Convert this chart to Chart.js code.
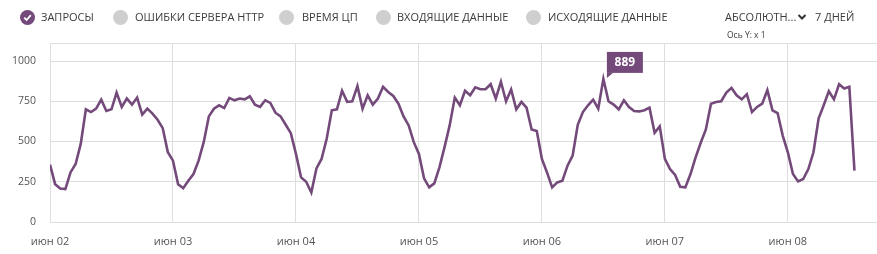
<!DOCTYPE html>
<html lang="ru">
<head>
    <meta charset="UTF-8">
    <title>Запросы</title>
    <script src="https://cdn.jsdelivr.net/npm/chart.js"></script>
    <style>
        body {
            margin: 0;
            width: 877px;
            height: 254px;
            overflow: hidden;
            background: #fff;
            font-family: "Open Sans", "Noto Sans", Arial, sans-serif;
            color: #3b3b3b;
        }
        #wrap {
            position: relative;
            width: 877px;
            height: 254px;
        }
        canvas {
            position: absolute;
            left: 0;
            top: 0;
        }
        .item {
            position: absolute;
            top: 9px;
            font-size: 11px;
            line-height: 16px;
            white-space: nowrap;
        }
        .dot {
            position: absolute;
            top: 10px;
            width: 15px;
            height: 15px;
            border-radius: 50%;
            background: #cfcfcf;
        }
        .dot.on {
            background: #744a7b;
        }
        .dot.on svg {
            position: absolute;
            left: 3px;
            top: 3px;
        }
        .small {
            position: absolute;
            font-size: 8.5px;
            top: 29px;
            left: 727px;
            white-space: nowrap;
        }
    </style>
</head>
<body>
<div id="wrap">
    <canvas id="requestsChart" width="877" height="254"></canvas>

    <div class="dot on" style="left:20px"><svg width="9" height="9" viewBox="0 0 9 9"><path d="M1.2 4.6 L3.6 7 L7.8 2.2" stroke="#fff" stroke-width="1.8" fill="none"/></svg></div>
    <div class="item" style="left:41px">ЗАПРОСЫ</div>
    <div class="dot" style="left:113px"></div>
    <div class="item" style="left:135px">ОШИБКИ СЕРВЕРА HTTP</div>
    <div class="dot" style="left:279px"></div>
    <div class="item" style="left:302px">ВРЕМЯ ЦП</div>
    <div class="dot" style="left:376px"></div>
    <div class="item" style="left:397px">ВХОДЯЩИЕ ДАННЫЕ</div>
    <div class="dot" style="left:526px"></div>
    <div class="item" style="left:548px">ИСХОДЯЩИЕ ДАННЫЕ</div>

    <div class="item" style="left:725px">АБСОЛЮТН...<svg width="10" height="8" viewBox="0 0 10 8" style="margin-left:1px"><path d="M1.5 2 L5 5.5 L8.5 2" stroke="#333" stroke-width="2" fill="none"/></svg></div>
    <div class="item" style="left:815px">7 ДНЕЙ</div>
    <div class="small">Ось Y: x 1</div>
</div>

<script>
    // hourly request counts, one array per day
    const jun02 = [356, 235, 208, 204, 308, 360, 485, 700, 683, 704, 760, 690, 700, 804, 715, 767, 729, 773, 667, 704, 673, 635, 583, 433];
    const jun03 = [381, 235, 210, 256, 298, 381, 496, 656, 704, 725, 708, 771, 756, 767, 762, 781, 729, 715, 756, 740, 679, 656, 604, 552];
    const jun04 = [423, 277, 250, 183, 333, 392, 517, 694, 700, 815, 746, 750, 844, 704, 787, 729, 767, 840, 808, 783, 735, 656, 600, 496];
    const jun05 = [423, 271, 215, 240, 340, 465, 600, 773, 725, 815, 787, 837, 825, 825, 856, 767, 871, 750, 823, 700, 746, 710, 575, 565];
    const jun06 = [392, 308, 215, 246, 256, 350, 412, 604, 683, 725, 760, 704, 889, 750, 729, 700, 756, 714, 689, 687, 694, 710, 554, 594];
    const jun07 = [392, 329, 292, 219, 215, 298, 402, 492, 575, 735, 746, 750, 804, 833, 787, 762, 794, 683, 715, 735, 819, 694, 677, 537];
    const jun08 = [433, 298, 252, 267, 329, 433, 642, 725, 812, 762, 856, 829, 840, 319];

    const dayLabels = ['июн 02', 'июн 03', 'июн 04', 'июн 05', 'июн 06', 'июн 07', 'июн 08'];
    const yTicks = [0, 250, 500, 750, 1000];

    const requests = [].concat(jun02, jun03, jun04, jun05, jun06, jun07, jun08);
    const points = requests.map((v, i) => ({ x: i, y: v }));
    const peakIndex = requests.indexOf(Math.max(...requests));

    const lineColor = '#744a7b';
    const gridColor = '#dedede';

    // callout box over the peak value
    const peakLabel = {
        id: 'peakLabel',
        afterDatasetsDraw(chart) {
            const pt = chart.getDatasetMeta(0).data[peakIndex];
            const ctx = chart.ctx;
            const left = pt.x + 3.5, top = pt.y - 27, w = 36, h = 21;
            ctx.save();
            ctx.fillStyle = lineColor;
            ctx.fillRect(left, top, w, h);
            ctx.beginPath();
            ctx.moveTo(left, top + h);
            ctx.lineTo(left + 6, top + h);
            ctx.lineTo(left, top + h + 5);
            ctx.closePath();
            ctx.fill();
            ctx.fillStyle = '#fff';
            ctx.font = 'bold 12px "Open Sans", sans-serif';
            ctx.textAlign = 'center';
            ctx.textBaseline = 'middle';
            ctx.fillText(String(requests[peakIndex]), left + w / 2, top + h / 2 + 0.5);
            ctx.restore();
        }
    };

    const ctx = document.getElementById('requestsChart').getContext('2d');
    const requestsChart = new Chart(ctx, {
        type: 'line',
        data: {
            datasets: [{
                label: 'Запросы',
                data: points,
                borderColor: lineColor,
                borderWidth: 2.6,
                pointRadius: 0,
                tension: 0,
                fill: false
            }]
        },
        options: {
            responsive: false,
            animation: false,
            layout: { padding: { top: 43, left: 0, right: 0, bottom: 0 } },
            plugins: {
                legend: { display: false },
                tooltip: { enabled: false }
            },
            scales: {
                x: {
                    type: 'linear',
                    min: 0,
                    max: 161.4,
                    afterFit: s => {
                        s.height = 32;
                        s.paddingLeft = 0;
                        s.paddingRight = 0;
                    },
                    grid: { color: gridColor, drawTicks: false },
                    border: { color: gridColor },
                    ticks: {
                        stepSize: 24,
                        autoSkip: false,
                        maxRotation: 0,
                        padding: 13,
                        color: '#555',
                        font: { size: 11, family: '"Open Sans", sans-serif' },
                        callback: v => (v % 24 === 0 ? dayLabels[v / 24] : '')
                    }
                },
                y: {
                    min: 0,
                    max: 1112,
                    afterFit: s => { s.width = 50; },
                    afterBuildTicks: s => {
                        s.ticks = yTicks.map(v => ({ value: v })).concat([{ value: 1112 }]);
                    },
                    grid: { color: gridColor, drawTicks: false },
                    border: { color: gridColor },
                    ticks: {
                        padding: 14,
                        color: '#555',
                        font: { size: 10.5, family: '"Open Sans", sans-serif' },
                        callback: v => (yTicks.includes(v) ? String(v) : '')
                    }
                }
            }
        },
        plugins: [peakLabel]
    });
</script>
</body>
</html>
